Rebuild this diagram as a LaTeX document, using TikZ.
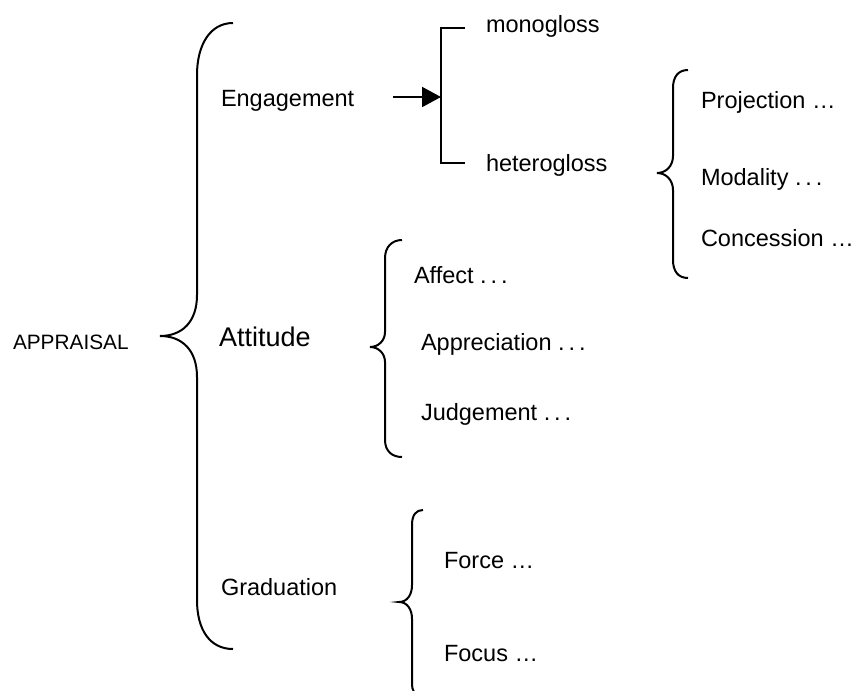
\documentclass[tikz,border=0pt]{standalone}
\usepackage{fontspec}
\setmainfont{Liberation Sans}
\usetikzlibrary{arrows.meta}
\begin{document}
\begin{tikzpicture}[x=0.5pt,y=-0.5pt,line width=1pt,
    itemtext/.style={anchor=base west,inner sep=0pt,font=\fontsize{11.75}{14}\selectfont}]
\useasboundingbox (0,0) rectangle (854,690);
% root and main brace
\node[itemtext,font=\fontsize{10.4}{12}\selectfont] (appraisal) at (12,349.5) {APPRAISAL};
\draw (233,23) .. controls (210,23) and (197,45) .. (197,75) -- (197,295)
  .. controls (197,322) and (182,336) .. (160,336)
  .. controls (182,336) and (197,350) .. (197,377) -- (197,600)
  .. controls (197,630) and (210,649) .. (233,649);
% engagement
\node[itemtext] (engagement) at (220,106.5) {Engagement};
\coordinate (arrowstart) at (393,97);
\coordinate (fork) at (441,97);
\coordinate (forktop) at (441,28);
\coordinate (forkbottom) at (441,163);
\coordinate (monotick) at (465,28);
\coordinate (heterotick) at (465,163);
\draw[-{Triangle[length=9.5pt,width=10pt]}] (arrowstart) -- (fork);
\draw (monotick) -- (forktop) -- (forkbottom) -- (heterotick);
\node[itemtext] (monogloss) at (485,32.5) {monogloss};
\node[itemtext] (heterogloss) at (485,171.5) {heterogloss};
\draw (688,70) .. controls (678,70) and (673,77) .. (673,88) -- (673,156)
  .. controls (673,166) and (666,173) .. (657,173)
  .. controls (666,173) and (673,180) .. (673,190) -- (673,260)
  .. controls (673,271) and (678,278) .. (688,278);
\node[itemtext] (projection) at (700,108.5) {Projection …};
\node[itemtext] (modality) at (700,185.5) {Modality .\,.\,.};
\node[itemtext] (concession) at (700,246.5) {Concession …};
% attitude
\node[itemtext,font=\fontsize{13.5}{16}\selectfont] (attitude) at (218,346.7) {Attitude};
\draw (402,240) .. controls (392,240) and (385,247) .. (385,258) -- (385,332)
  .. controls (385,341) and (378,347) .. (370,347)
  .. controls (378,347) and (385,353) .. (385,362) -- (385,440)
  .. controls (385,451) and (392,457) .. (402,457);
\node[itemtext] (affect) at (413,283.5) {Affect .\,.\,.};
\node[itemtext] (appreciation) at (420,350.5) {Appreciation .\,.\,.};
\node[itemtext] (judgement) at (420,420.5) {Judgement .\,.\,.};
% graduation
\node[itemtext] (graduation) at (220,595.5) {Graduation};
\draw (423,510) .. controls (416,510) and (412,515) .. (412,525) -- (412,585)
  .. controls (412,595) and (407,602) .. (399,602)
  .. controls (407,602) and (412,609) .. (412,619) -- (412,684)
  .. controls (412,690) and (414,694) .. (420,696);
\node[itemtext] (force) at (443,568.5) {Force …};
\node[itemtext] (focus) at (443,661.5) {Focus …};
\end{tikzpicture}
\end{document}
